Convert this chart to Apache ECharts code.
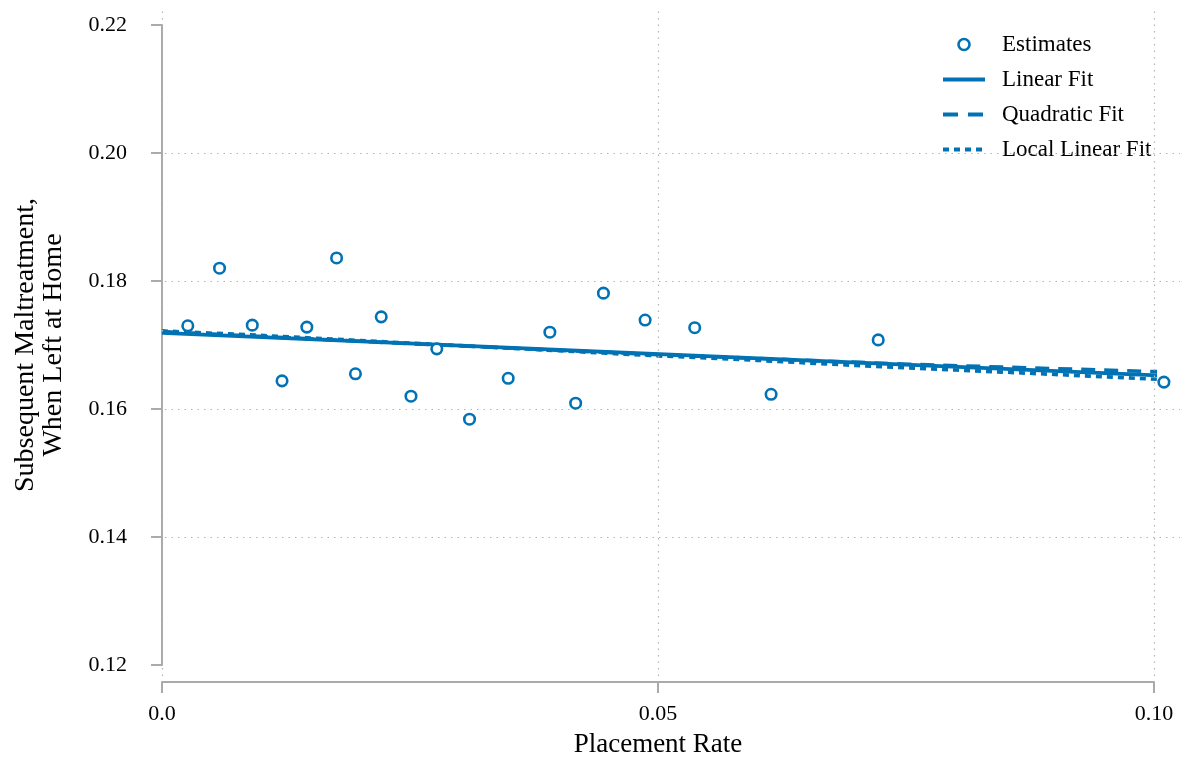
<!DOCTYPE html>
<html>
<head>
<meta charset="utf-8">
<script src="https://cdn.jsdelivr.net/npm/echarts@6/dist/echarts.min.js"></script>
<style>
html,body{margin:0;padding:0;background:#fff;}
#chart{width:1182px;height:765px;}
</style>
</head>
<body>
<div id="chart"></div>
<script>
// ---- data ----
const placementRate = [0.0026, 0.0058, 0.0091, 0.0121, 0.0146, 0.0176, 0.0195, 0.0221, 0.0251, 0.0277,
                       0.0310, 0.0349, 0.0391, 0.0417, 0.0445, 0.0487, 0.0537, 0.0614, 0.0722, 0.1010];
const estimates     = [0.1730, 0.1820, 0.1731, 0.1644, 0.1728, 0.1836, 0.1655, 0.1744, 0.1620, 0.1694,
                       0.1584, 0.1648, 0.1720, 0.1609, 0.1781, 0.1739, 0.1727, 0.1623, 0.1708, 0.1642];
const linearX = [0, 0.101];
const linearY = [0.1719, 0.1652];
const quadX = [0, 0.025, 0.05, 0.075, 0.101];
const quadY = [0.1721, 0.1702, 0.1685, 0.1670, 0.1658];
const localX = [0, 0.01, 0.02, 0.03, 0.04, 0.05, 0.06, 0.07, 0.08, 0.09, 0.101];
const localY = [0.1722, 0.1715, 0.1707, 0.1699, 0.1691, 0.1683, 0.1676, 0.1668, 0.1661, 0.1654, 0.1646];
const xTickValues = [0, 0.05, 0.10];
const xTickLabels = ['0.0', '0.05', '0.10'];
const yTickValues = [0.12, 0.14, 0.16, 0.18, 0.20, 0.22];
const yTickLabels = ['0.12', '0.14', '0.16', '0.18', '0.20', '0.22'];
const yGridValues = [0.14, 0.16, 0.18, 0.20];
const seriesNames = ['Estimates', 'Linear Fit', 'Quadratic Fit', 'Local Linear Fit'];
const xTitle = 'Placement Rate';
const yTitle = 'Subsequent Maltreatment,\nWhen Left at Home';

// ---- build ----
const BLUE = '#0173b4';
const FONT = "'Liberation Serif', 'Times New Roman', serif";
const zip = (xs, ys) => xs.map((x, i) => [x, ys[i]]);
const gridLine = { color: '#b4b4b4', width: 1.2, type: [1.5, 5] };
const hiddenSymbol = { color: 'rgba(0,0,0,0)', borderWidth: 0, opacity: 0 };

const chart = echarts.init(document.getElementById('chart'), null, { renderer: 'canvas' });
chart.setOption({
  animation: false,
  backgroundColor: '#fff',
  textStyle: { fontFamily: FONT },
  grid: [
    { left: 162, right: 28, top: 25, bottom: 100 },   // main
    { left: 162, right: 28, top: 8, bottom: 89 },     // vertical grid lines
    { left: 152, right: 2, top: 25, bottom: 100 }     // horizontal grid lines
  ],
  xAxis: [
    {
      gridIndex: 0, type: 'value', min: 0, max: 0.10, interval: 0.05, offset: 17,
      name: xTitle, nameLocation: 'middle', nameGap: 49,
      nameTextStyle: { fontFamily: FONT, fontSize: 27, color: '#000' },
      axisLine: { show: true, lineStyle: { color: '#aaaaaa', width: 2 } },
      axisTick: { show: true, length: 11, lineStyle: { color: '#aaaaaa', width: 2 } },
      axisLabel: {
        fontFamily: FONT, fontSize: 22, color: '#000', margin: 21,
        formatter: v => { const i = xTickValues.findIndex(t => Math.abs(t - v) < 1e-9); return i >= 0 ? xTickLabels[i] : ''; }
      },
      splitLine: { show: false }
    },
    { gridIndex: 1, type: 'value', min: 0, max: 0.10, show: false },
    { gridIndex: 2, type: 'value', min: 0, max: 1, show: false }
  ],
  yAxis: [
    {
      gridIndex: 0, type: 'value', min: 0.12, max: 0.22, interval: 0.02, offset: 17,
      name: yTitle, nameLocation: 'middle', nameGap: 77, nameRotate: 90,
      nameTextStyle: { fontFamily: FONT, fontSize: 28, color: '#000', lineHeight: 28, align: 'center' },
      axisLine: { show: true, lineStyle: { color: '#aaaaaa', width: 2 } },
      axisTick: { show: true, length: 11, lineStyle: { color: '#aaaaaa', width: 2 } },
      axisLabel: {
        fontFamily: FONT, fontSize: 22, color: '#000', margin: 18,
        formatter: v => { const i = yTickValues.findIndex(t => Math.abs(t - v) < 1e-9); return i >= 0 ? yTickLabels[i] : ''; }
      },
      splitLine: { show: false }
    },
    { gridIndex: 1, type: 'value', min: 0, max: 1, show: false },
    { gridIndex: 2, type: 'value', min: 0.12, max: 0.22, show: false }
  ],
  legend: {
    data: [
      { name: seriesNames[0], itemStyle: { color: '#fff', borderColor: BLUE, borderWidth: 2.6 } },
      { name: seriesNames[1], itemStyle: hiddenSymbol, lineStyle: { width: 4, type: 'solid' } },
      { name: seriesNames[2], itemStyle: hiddenSymbol, lineStyle: { width: 4, type: [15, 10] } },
      { name: seriesNames[3], itemStyle: hiddenSymbol, lineStyle: { width: 4, type: [6, 5] } }
    ],
    orient: 'vertical',
    left: 941, top: 33, padding: 0,
    itemWidth: 42, itemHeight: 11, itemGap: 12,
    selectedMode: false,
    textStyle: { fontFamily: FONT, fontSize: 23, color: '#000', lineHeight: 23, padding: [0, 0, 0, 12] }
  },
  series: [
    {
      name: '_vgrid', type: 'line', xAxisIndex: 1, yAxisIndex: 1, data: [], z: 0, silent: true,
      markLine: {
        silent: true, symbol: ['none', 'none'], label: { show: false },
        lineStyle: gridLine, emphasis: { disabled: true },
        data: xTickValues.map(v => ({ xAxis: v }))
      }
    },
    {
      name: '_hgrid', type: 'line', xAxisIndex: 2, yAxisIndex: 2, data: [], z: 0, silent: true,
      markLine: {
        silent: true, symbol: ['none', 'none'], label: { show: false },
        lineStyle: gridLine, emphasis: { disabled: true },
        data: yGridValues.map(v => ({ yAxis: v }))
      }
    },
    {
      name: seriesNames[1], type: 'line', data: zip(linearX, linearY), clip: false,
      symbol: 'none', z: 3, color: BLUE,
      lineStyle: { color: BLUE, width: 3.6, type: 'solid' }
    },
    {
      name: seriesNames[2], type: 'line', data: zip(quadX, quadY), clip: false,
      symbol: 'none', z: 3, color: BLUE,
      lineStyle: { color: BLUE, width: 3.6, type: [14, 9] }
    },
    {
      name: seriesNames[3], type: 'line', data: zip(localX, localY), clip: false,
      symbol: 'none', z: 3, color: BLUE,
      lineStyle: { color: BLUE, width: 3.6, type: [6, 5] }
    },
    {
      name: seriesNames[0], type: 'scatter', data: zip(placementRate, estimates), clip: false,
      symbol: 'circle', symbolSize: 10.5, z: 5,
      itemStyle: { color: '#fff', borderColor: BLUE, borderWidth: 2.6, opacity: 1 }
    }
  ]
});
</script>
</body>
</html>
